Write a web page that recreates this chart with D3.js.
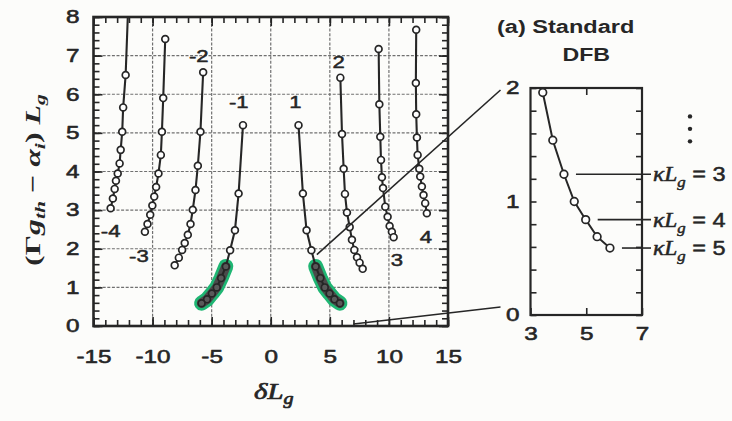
<!DOCTYPE html>
<html>
<head>
<meta charset="utf-8">
<script src="https://cdn.jsdelivr.net/npm/d3@7"></script>
<style>
  body { margin: 0; background: #fcfcfa; }
  svg { display: block; }
</style>
</head>
<body>
<div id="chart"></div>
<script>
// curves, one per mode: [deltaL, gain]
const modeM4 = [[-12.05, 8.4], [-12.28, 6.5], [-12.49, 5.66], [-12.57, 5.03], [-12.7, 4.56], [-12.79, 4.21], [-12.95, 3.95], [-13.1, 3.76], [-13.21, 3.55], [-13.36, 3.3], [-13.55, 3.05]];
const modeM3 = [[-8.93, 7.43], [-9.1, 5.9], [-9.21, 5.03], [-9.3, 4.43], [-9.5, 3.95], [-9.7, 3.6], [-9.86, 3.35], [-10.02, 3.12], [-10.2, 2.88], [-10.43, 2.64], [-10.65, 2.44]];
const modeM2 = [[-5.72, 6.57], [-5.95, 5.03], [-6.17, 4.15], [-6.37, 3.52], [-6.6, 3.01], [-6.79, 2.64], [-7.02, 2.36], [-7.28, 2.15], [-7.5, 1.97], [-7.78, 1.77], [-8.13, 1.57]];
const modeM1 = [[-2.35, 5.2], [-2.72, 3.43], [-3.03, 2.48], [-3.44, 1.96], [-3.8, 1.54], [-4.2, 1.24], [-4.57, 1.0], [-4.98, 0.84], [-5.39, 0.69], [-5.85, 0.59]];
const modeP1 = [[2.35, 5.2], [2.72, 3.43], [3.03, 2.48], [3.44, 1.96], [3.8, 1.54], [4.2, 1.24], [4.57, 1.0], [4.98, 0.84], [5.39, 0.69], [5.85, 0.59]];
const modeP2 = [[5.89, 6.43], [6.03, 4.97], [6.17, 4.07], [6.28, 3.42], [6.45, 2.94], [6.68, 2.56], [6.87, 2.23], [7.07, 1.97], [7.3, 1.78], [7.52, 1.64], [7.78, 1.48]];
const modeP3 = [[9.13, 7.17], [9.19, 5.74], [9.27, 4.9], [9.33, 4.3], [9.41, 3.85], [9.5, 3.57], [9.69, 3.09], [9.89, 2.83], [10.06, 2.59], [10.25, 2.44], [10.4, 2.3]];
const modeP4 = [[12.31, 7.67], [12.28, 6.29], [12.31, 5.48], [12.37, 4.88], [12.43, 4.43], [12.57, 4.07], [12.65, 3.87], [12.79, 3.61], [12.93, 3.39], [13.07, 3.18], [13.21, 2.92]];

const modeNames = ['-4', '-3', '-2', '-1', '1', '2', '3', '4'];
// where each mode number sits, in data units
const modeLabelAt = [[-13.55, 2.46], [-11.16, 1.81], [-6.09, 7.0], [-2.7, 5.8], [2.09, 5.8], [5.75, 6.83], [10.68, 1.71], [13.13, 2.31]];

// inset (a) standard DFB, mode 1 close up
const kappaL = [2, 2.5, 3, 3.5, 4, 4.5, 5];
const insetDL = [3.44, 3.8, 4.2, 4.57, 4.98, 5.39, 5.85];
const insetGain = [1.96, 1.54, 1.24, 1.0, 0.84, 0.69, 0.59];
const kappaTagged = [3, 4, 5];

const xTicks = [-15, -10, -5, 0, 5, 10, 15];
const yTicks = [0, 1, 2, 3, 4, 5, 6, 7, 8];
const insetXTicks = [3, 5, 7];
const insetYTicks = [0, 1, 2];

const W = 732, H = 421;
const ink = '#262626';
const sans = '"Liberation Sans", Arial, sans-serif';
const serif = '"Liberation Serif", "Times New Roman", serif';
const stretch = 1.35;

const svg = d3.select('#chart').append('svg').attr('width', W).attr('height', H);

const frame = { left: 93.5, right: 448, top: 17, bottom: 326 };
const x = d3.scaleLinear([-15, 15], [frame.left, frame.right]);
const y = d3.scaleLinear([0, 8], [frame.bottom, frame.top]);

// widen text like the scan does
function widen(sel, sx) {
    sel.each(function () {
        const t = d3.select(this);
        const x0 = +t.attr('x') || 0;
        t.attr('x', 0).attr('transform', `translate(${x0},0) scale(${sx},1)`);
    });
}
// scanned print is a bit heavier than the plain font
function heavy(sel, w) {
    sel.attr('stroke', ink).attr('stroke-width', w || 0.55).attr('stroke-linejoin', 'round');
}

// grid
const grid = svg.append('g').attr('stroke', '#707070').attr('stroke-width', 1.2).attr('stroke-dasharray', '3,1.6');
grid.selectAll('.gx').data(xTicks.slice(1, -1)).join('line').attr('class', 'gx')
    .attr('x1', d => x(d)).attr('x2', d => x(d)).attr('y1', y(0)).attr('y2', y(8));
grid.selectAll('.gy').data(yTicks.slice(1, -1)).join('line').attr('class', 'gy')
    .attr('y1', d => y(d)).attr('y2', d => y(d)).attr('x1', x(-15)).attr('x2', x(15));

// tick marks on all four sides, pointing in
function ticks(axis, tr) {
    const g = svg.append('g').attr('transform', tr).attr('color', ink).call(axis);
    g.select('.domain').remove();
    g.selectAll('.tick line').attr('stroke-width', 1.6);
    return g;
}
const minorX = d3.range(-15, 16, 1);
const minorY = d3.range(0, 41).map(i => i * 0.2);
ticks(d3.axisBottom(x).tickValues(minorX).tickSize(-6).tickFormat(''), `translate(0,${frame.bottom})`);
ticks(d3.axisTop(x).tickValues(minorX).tickSize(-6).tickFormat(''), `translate(0,${frame.top})`);
ticks(d3.axisLeft(y).tickValues(minorY).tickSize(-6).tickFormat(''), `translate(${frame.left},0)`);
ticks(d3.axisRight(y).tickValues(minorY).tickSize(-6).tickFormat(''), `translate(${frame.right},0)`);
ticks(d3.axisTop(x).tickValues(xTicks).tickSize(-9).tickFormat(''), `translate(0,${frame.top})`);
ticks(d3.axisRight(y).tickValues(yTicks).tickSize(-9).tickFormat(''), `translate(${frame.right},0)`);

const xAxis = ticks(d3.axisBottom(x).tickValues(xTicks).tickSizeInner(-9).tickSizeOuter(0)
    .tickPadding(24).tickFormat(d => String(d)), `translate(0,${frame.bottom})`);
const yAxis = ticks(d3.axisLeft(y).tickValues(yTicks).tickSizeInner(-9).tickSizeOuter(0)
    .tickPadding(14).tickFormat(d => String(d)), `translate(${frame.left},0)`);
[xAxis, yAxis].forEach(g => {
    g.selectAll('text').attr('font-family', sans).attr('font-size', 18).attr('fill', ink);
    heavy(g.selectAll('text'));
    widen(g.selectAll('text'), stretch);
});

svg.append('rect')
    .attr('x', frame.left).attr('y', frame.top)
    .attr('width', frame.right - frame.left).attr('height', frame.bottom - frame.top)
    .attr('fill', 'none').attr('stroke', ink).attr('stroke-width', 2.6);

// curves
svg.append('clipPath').attr('id', 'plotClip').append('rect')
    .attr('x', frame.left).attr('y', frame.top)
    .attr('width', frame.right - frame.left).attr('height', frame.bottom - frame.top);

const modes = [modeM4, modeM3, modeM2, modeM1, modeP1, modeP2, modeP3, modeP4];
const line = d3.line().x(d => x(d[0])).y(d => y(d[1]));
const plot = svg.append('g').attr('clip-path', 'url(#plotClip)');

// green marker over the lowest-threshold points of modes -1 and +1
const marked = [modeM1, modeP1].map(m => m.filter(d => d[1] < 1.8));
plot.selectAll('.marker').data(marked).join('path').attr('class', 'marker')
    .attr('d', line).attr('fill', 'none').attr('stroke', '#1fb673')
    .attr('stroke-width', 15).attr('stroke-linecap', 'round').attr('stroke-linejoin', 'round');
plot.selectAll('.markerCore').data(marked).join('path').attr('class', 'markerCore')
    .attr('d', line).attr('fill', 'none').attr('stroke', '#4a4a4a')
    .attr('stroke-width', 9.5).attr('stroke-linecap', 'round').attr('stroke-linejoin', 'round');

plot.selectAll('.mode').data(modes).join('path').attr('class', 'mode')
    .attr('d', line).attr('fill', 'none').attr('stroke', ink).attr('stroke-width', 2.1);

plot.selectAll('.pt').data(modes.flat()).join('circle').attr('class', 'pt')
    .attr('cx', d => x(d[0])).attr('cy', d => y(d[1])).attr('r', 3.4)
    .attr('fill', d => (Math.abs(d[0]) < 7 && Math.abs(d[0]) > 3.5 && d[1] < 1.8) ? '#5a5a5a' : '#fff')
    .attr('stroke', ink).attr('stroke-width', 1.7);

const modeLabels = svg.selectAll('.modeLabel').data(modeNames).join('text').attr('class', 'modeLabel')
    .attr('transform', (d, i) => `translate(${x(modeLabelAt[i][0])},${y(modeLabelAt[i][1])}) scale(1.3,1)`)
    .attr('text-anchor', 'middle').attr('dy', '0.36em')
    .attr('font-family', sans).attr('font-size', 17).attr('fill', ink)
    .text(d => d);
heavy(modeLabels, 0.5);

// axis titles
const yTitle = svg.append('text')
    .attr('transform', 'translate(40,180) rotate(-90) scale(1.45,1)')
    .attr('text-anchor', 'middle').attr('font-family', serif).attr('font-size', 22)
    .attr('font-weight', 'bold').attr('fill', ink);
yTitle.append('tspan').text('(Γ');
yTitle.append('tspan').attr('font-style', 'italic').text('g');
yTitle.append('tspan').attr('font-style', 'italic').attr('font-size', 15).attr('dy', 5).text('th');
yTitle.append('tspan').attr('dy', -5).text(' − ');
yTitle.append('tspan').attr('font-style', 'italic').text('α');
yTitle.append('tspan').attr('font-style', 'italic').attr('font-size', 15).attr('dy', 5).text('i');
yTitle.append('tspan').attr('dy', -5).text(') ');
yTitle.append('tspan').attr('font-style', 'italic').text('L');
yTitle.append('tspan').attr('font-style', 'italic').attr('font-size', 15).attr('dy', 5).text('g');

const xTitle = svg.append('text')
    .attr('transform', `translate(${x(0) + 3},399) scale(1.25,1)`)
    .attr('text-anchor', 'middle').attr('font-family', serif).attr('font-size', 23)
    .attr('font-style', 'italic').attr('fill', ink);
xTitle.append('tspan').text('δL');
xTitle.append('tspan').attr('font-size', 16).attr('dy', 5).text('g');
heavy(xTitle, 0.7);

// inset
const inset = { left: 530.5, right: 642, top: 88, bottom: 315 };
const xi = d3.scaleLinear([3, 7], [inset.left, inset.right]);
const yi = d3.scaleLinear([0, 2], [inset.bottom, inset.top]);
const insetPts = insetDL.map((d, i) => [d, insetGain[i]]);

// zoom lines from the main plot to the inset
const zoomLines = [[[3.9, 1.85], 2], [[7, 0.05], 0]];
svg.selectAll('.zoomLine').data(zoomLines).join('line').attr('class', 'zoomLine')
    .attr('x1', d => x(d[0][0])).attr('y1', d => y(d[0][1]))
    .attr('x2', inset.left - 30).attr('y2', d => yi(d[1]) + (d[1] ? 2 : -8))
    .attr('stroke', ink).attr('stroke-width', 1.6);

const minorYi = d3.range(0, 11).map(i => i * 0.2);
ticks(d3.axisLeft(yi).tickValues(minorYi).tickSize(-6).tickFormat(''), `translate(${inset.left},0)`);
ticks(d3.axisRight(yi).tickValues(minorYi).tickSize(-6).tickFormat(''), `translate(${inset.right},0)`);
ticks(d3.axisTop(xi).tickValues([5]).tickSize(-7).tickFormat(''), `translate(0,${inset.top})`);
const xiAxis = ticks(d3.axisBottom(xi).tickValues(insetXTicks).tickSizeInner(-7).tickSizeOuter(0)
    .tickPadding(12).tickFormat(d => String(d)), `translate(0,${inset.bottom})`);
const yiAxis = ticks(d3.axisLeft(yi).tickValues(insetYTicks).tickSizeInner(0).tickSizeOuter(0)
    .tickPadding(11).tickFormat(d => String(d)), `translate(${inset.left},0)`);
[xiAxis, yiAxis].forEach(g => {
    g.selectAll('text').attr('font-family', sans).attr('font-size', 18).attr('fill', ink);
    heavy(g.selectAll('text'));
    widen(g.selectAll('text'), stretch);
});

svg.append('rect')
    .attr('x', inset.left).attr('y', inset.top)
    .attr('width', inset.right - inset.left).attr('height', inset.bottom - inset.top)
    .attr('fill', 'none').attr('stroke', ink).attr('stroke-width', 2.2);

const lineI = d3.line().x(d => xi(d[0])).y(d => yi(d[1]));
svg.append('path').datum(insetPts).attr('d', lineI)
    .attr('fill', 'none').attr('stroke', ink).attr('stroke-width', 2);
svg.selectAll('.ipt').data(insetPts).join('circle').attr('class', 'ipt')
    .attr('cx', d => xi(d[0])).attr('cy', d => yi(d[1])).attr('r', 3.8)
    .attr('fill', '#fff').attr('stroke', ink).attr('stroke-width', 1.7);

// kappa L_g tags
const tagged = kappaTagged.map(k => ({ k, p: insetPts[kappaL.indexOf(k)] }));
svg.selectAll('.tagLine').data(tagged).join('line').attr('class', 'tagLine')
    .attr('x1', d => xi(d.p[0]) + 12).attr('x2', inset.right + 9)
    .attr('y1', d => yi(d.p[1])).attr('y2', d => yi(d.p[1]))
    .attr('stroke', ink).attr('stroke-width', 1.6);
const tags = svg.selectAll('.tag').data(tagged).join('text').attr('class', 'tag')
    .attr('transform', d => `translate(${inset.right + 11},${yi(d.p[1]) + 7}) scale(1.12,1)`)
    .attr('fill', ink).attr('font-size', 21);
tags.append('tspan').attr('font-family', serif).attr('font-style', 'italic').text('κL');
tags.append('tspan').attr('font-family', serif).attr('font-style', 'italic')
    .attr('font-size', 15).attr('dy', 6).text('g');
tags.append('tspan').attr('font-family', sans).attr('dy', -6).text(d => ' = ' + d.k);
heavy(tags, 0.5);

// vertical ellipsis: more curves above
svg.selectAll('.more').data([1.75, 1.64, 1.53]).join('circle').attr('class', 'more')
    .attr('cx', inset.right + 48).attr('cy', d => yi(d)).attr('r', 2.2).attr('fill', ink);

// inset title
svg.append('text')
    .attr('transform', 'translate(497,33) scale(1.24,1)')
    .attr('font-family', sans).attr('font-size', 19).attr('font-weight', 'bold').attr('fill', ink)
    .text('(a) Standard');
svg.append('text')
    .attr('transform', `translate(${xi(5)},61) scale(1.22,1)`).attr('text-anchor', 'middle')
    .attr('font-family', sans).attr('font-size', 19).attr('font-weight', 'bold').attr('fill', ink)
    .text('DFB');
</script>
</body>
</html>
